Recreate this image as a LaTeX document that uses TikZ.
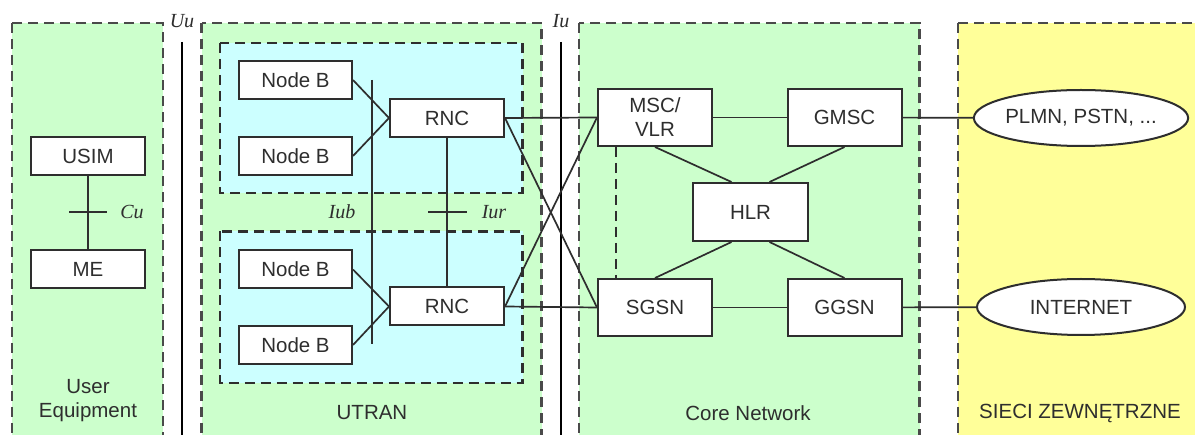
\documentclass[tikz,border=0pt]{standalone}
\usepackage{fontspec}
\setmainfont{Liberation Sans}
\newfontfamily\serifit{Liberation Serif}
\usetikzlibrary{shapes.geometric,calc}
\definecolor{ggreen}{HTML}{CCFFCC}
\definecolor{gblue}{HTML}{CCFFFF}
\definecolor{gyellow}{HTML}{FFFF99}
\definecolor{bord}{HTML}{4A4A4A}
\definecolor{ink}{HTML}{2E2E2E}
\begin{document}
\begin{tikzpicture}[x=1pt,y=-1pt,
  region/.style={fill=#1,draw=bord,line width=2.6pt,dash pattern=on 10pt off 6pt},
  innerreg/.style={fill=gblue,draw=ink,line width=2.2pt,dash pattern=on 10pt off 6pt},
  box/.style={draw=ink,fill=white,line width=2pt,minimum width=114pt,minimum height=38pt,inner sep=0pt,text=ink,font=\fontsize{20.5}{22}\selectfont},
  tall/.style={box,minimum height=57pt},
  cloud/.style={ellipse,draw=ink,fill=white,line width=2pt,minimum width=208pt,minimum height=56pt,inner sep=0pt,text=ink,font=\fontsize{20.5}{22}\selectfont},
  conn/.style={draw=ink,line width=1.7pt},
  iface/.style={draw=black,line width=1.8pt},
  tick/.style={draw=ink,line width=2.6pt},
  ilabel/.style={text=ink,font=\serifit\itshape\fontsize{20}{21}\selectfont,inner sep=0pt},
  rlabel/.style={text=ink,font=\fontsize{20.5}{24}\selectfont,align=center,inner sep=0pt}]
\useasboundingbox (0,0) rectangle (1195,435);
\clip (0,0) rectangle (1195,435);
\fill[white] (0,0) rectangle (1195,435);
% regions
\path[region=ggreen] (12,23) rectangle (163,445);
\path[region=ggreen] (201.5,23) rectangle (541.5,445);
\path[innerreg] (220,43) rectangle (522.5,193);
\path[innerreg] (220,231.5) rectangle (522.5,383);
\path[region=ggreen] (579,23) rectangle (919.5,445);
\path[region=gyellow] (958,23) rectangle (1205,445);
% region labels
\node[rlabel] (lue) at (88,401) {User\\Equipment};
\node[rlabel] (lutran) at (372,413) {UTRAN};
\node[rlabel] (lcore) at (748,413) {Core Network};
\node[rlabel] (lext) at (1080,413) {SIECI ZEWNĘTRZNE};
% interface lines
\coordinate (uutop) at (182,42);
\coordinate (uubot) at (182,440);
\coordinate (iutop) at (561,42);
\coordinate (iubot) at (561,440);
\draw[iface] (uutop) -- (uubot);
\draw[iface] (iutop) -- (iubot);
\node[ilabel] (luu) at (182,21) {Uu};
\node[ilabel] (liu) at (561,21) {Iu};
% UE
\node[box] (usim) at (88,156) {USIM};
\node[box] (me) at (88,269) {ME};
\draw[conn] (usim) -- (me);
\coordinate (cul) at (69,212);
\coordinate (cur) at (107,212);
\draw[tick] (cul) -- (cur);
\node[ilabel] (lcu) at (132,212) {Cu};
% UTRAN
\node[box,minimum width=113pt] (nb1) at (295.5,80) {Node B};
\node[box,minimum width=113pt] (nb2) at (295.5,156) {Node B};
\node[box,minimum width=113pt] (nb3) at (295.5,269.5) {Node B};
\node[box,minimum width=113pt] (nb4) at (295.5,345) {Node B};
\node[box] (rnc1) at (447,118) {RNC};
\node[box] (rnc2) at (447,306.5) {RNC};
\coordinate (iubtop) at (371.7,80);
\coordinate (iubbot) at (371.7,344);
\draw[conn,line width=2.1pt] (iubtop) -- (iubbot);
\draw[conn] (nb1.east) -- (rnc1.west);
\draw[conn] (nb2.east) -- (rnc1.west);
\draw[conn] (nb3.east) -- (rnc2.west);
\draw[conn] (nb4.east) -- (rnc2.west);
\draw[conn,line width=2.1pt] (rnc1.south) -- (rnc2.north);
\coordinate (iurl) at (428,212);
\coordinate (iurr) at (467,212);
\draw[tick] (iurl) -- (iurr);
\node[ilabel] (liub) at (342,212) {Iub};
\node[ilabel] (liur) at (494,212) {Iur};
% Core network
\node[tall,align=center,font=\fontsize{20.5}{24}\selectfont] (msc) at (655,117.5) {MSC/\\VLR};
\node[tall] (gmsc) at (844.5,117.5) {GMSC};
\node[tall,minimum width=115pt,minimum height=58pt] (hlr) at (750.5,212) {HLR};
\node[tall] (sgsn) at (655,307.5) {SGSN};
\node[tall] (ggsn) at (844.5,307.5) {GGSN};
\node[cloud] (plmn) at (1081,118) {PLMN, PSTN, ...};
\node[cloud] (inet) at (1081,307) {INTERNET};
\draw[conn] (rnc1.east) -- (msc.west);
\draw[conn] (rnc1.east) -- (sgsn.west);
\draw[conn] (rnc2.east) -- (msc.west);
\draw[conn] (rnc2.east) -- (sgsn.west);
\draw[conn] (msc) -- (gmsc);
\draw[conn] (gmsc) -- (plmn);
\draw[conn] (sgsn) -- (ggsn);
\draw[conn] (ggsn) -- (inet);
\draw[conn] (msc.south) -- ($(hlr.north)+(-19,0)$);
\draw[conn] (gmsc.south) -- ($(hlr.north)+(19,0)$);
\draw[conn] (sgsn.north) -- ($(hlr.south)+(-19,0)$);
\draw[conn] (ggsn.north) -- ($(hlr.south)+(19,0)$);
\draw[draw=ink,line width=2.2pt,dash pattern=on 10pt off 6pt] ($(msc.south west)+(19,0)$) -- ($(sgsn.north west)+(19,0)$);
\end{tikzpicture}
\end{document}
